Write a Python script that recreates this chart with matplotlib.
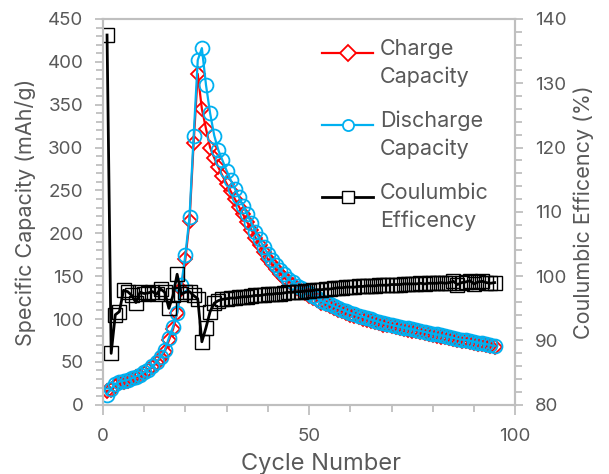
import numpy as np
import matplotlib.pyplot as plt
from matplotlib.ticker import MultipleLocator
from matplotlib.legend_handler import HandlerLine2D

plt.rcParams['font.family'] = ['Inter', 'DejaVu Sans']

cycles = list(range(1, 96))

discharge = [12, 19, 24, 27, 28, 29, 31, 33, 35, 38,
             41, 45, 50, 56, 64, 78, 91, 107, 140, 175,
             219, 313, 402, 416, 373, 340, 314, 297, 285, 273,
             262, 252, 242, 232, 222, 212, 202, 193, 184, 176,
             169, 163, 157, 152, 147, 143, 139, 136, 133, 130,
             127, 124, 121, 119, 117, 115, 113, 111, 109, 107,
             105.5, 104, 102.5, 101, 99.5, 98, 96.5, 95, 94, 93,
             92, 91, 90, 89, 88, 87, 86, 85, 84, 83,
             82, 81, 80, 79, 78, 77, 76, 75.5, 74.5, 73.5,
             72.5, 71.5, 70.5, 69.5, 68.5]

charge = [16, 17, 22, 25, 27, 28, 30, 32, 34, 37,
          40, 44, 49, 55, 62, 75, 88, 107, 135, 170,
          214, 305, 386, 345, 322, 300, 288, 277, 267, 258,
          249, 240, 231, 222, 213, 204, 195, 186, 178, 170,
          164, 158, 153, 148, 144, 140, 136, 133, 130, 127,
          124.5, 122, 119, 117, 115, 113, 111, 109, 107, 105,
          103.5, 102, 100.5, 99, 97.5, 96, 95, 93.5, 92.5, 91.5,
          90.5, 89.5, 88.5, 87.5, 86.5, 85.5, 84.5, 83.5, 82.5, 81.5,
          80.5, 79.5, 78.6, 77.6, 76.7, 75.7, 74.8, 74.2, 73.2, 72.3,
          71.4, 70.5, 69.6, 68.7, 67.8]

efficiency = [137.5, 88.0, 94.0, 94.5, 97.8, 97.6, 97.0, 95.9, 97.5, 97.3,
              97.4, 97.6, 97.2, 98.0, 97.5, 95.0, 97.0, 100.3, 97.2, 97.5,
              97.6, 97.0, 96.5, 89.8, 92.0, 94.5, 95.8, 96.2, 96.4, 96.5,
              96.6, 96.6, 96.7, 96.8, 96.8, 96.9, 97.0, 97.0, 97.1, 97.2,
              97.2, 97.3, 97.3, 97.4, 97.5, 97.5, 97.6, 97.6, 97.7, 97.7,
              97.8, 97.9, 97.9, 98.0, 98.0, 98.1, 98.2, 98.2, 98.3, 98.3,
              98.3, 98.4, 98.4, 98.5, 98.5, 98.5, 98.6, 98.6, 98.6, 98.7,
              98.7, 98.7, 98.8, 98.8, 98.8, 98.8, 98.9, 98.8, 98.9, 98.9,
              98.9, 99.0, 98.9, 99.0, 99.2, 98.7, 99.0, 99.1, 99.3, 98.8,
              99.1, 99.2, 99.0, 98.9, 99.0]

text_c = '#595959'
axis_c = '#BFBFBF'


# legend marker sits level with the first line of a two-line label
class FirstLineHandler(HandlerLine2D):
    def create_artists(self, legend, orig_handle, xdescent, ydescent,
                       width, height, fontsize, trans):
        return super().create_artists(legend, orig_handle, xdescent,
                                      ydescent - 0.96 * fontsize, width, height,
                                      fontsize, trans)


fig = plt.figure(figsize=(6.09, 4.74), dpi=100)
ax = fig.add_axes([0.169, 0.146, 0.677, 0.814])
ax2 = ax.twinx()

l1, = ax.plot(cycles, charge, color='#FF0000', lw=1.6, marker='D', ms=7.5,
              mfc='none', mec='#FF0000', mew=1.3, label='Charge\nCapacity')
l2, = ax.plot(cycles, discharge, color='#00B0F0', lw=1.6, marker='o', ms=10,
              mfc='none', mec='#00B0F0', mew=1.3, label='Discharge\nCapacity')
l3, = ax2.plot(cycles, efficiency, color='black', lw=2, marker='s', ms=10,
               mfc='none', mec='black', mew=1.0, label='Coulumbic\nEfficency')

ax.set_xlim(0, 100)
ax.set_ylim(0, 450)
ax2.set_ylim(80, 140)

ax.xaxis.set_major_locator(MultipleLocator(50))
ax.xaxis.set_minor_locator(MultipleLocator(10))
ax.yaxis.set_major_locator(MultipleLocator(50))
ax.yaxis.set_minor_locator(MultipleLocator(10))
ax2.yaxis.set_major_locator(MultipleLocator(10))
ax2.yaxis.set_minor_locator(MultipleLocator(2))

for a in (ax, ax2):
    for s in a.spines.values():
        s.set_color(axis_c)
        s.set_linewidth(1.5)
    a.tick_params(which='both', direction='out', color=axis_c, width=1.3,
                  labelcolor=text_c, labelsize=13.5)
    a.tick_params(which='major', length=6)
    a.tick_params(which='minor', length=5)

ax.tick_params(axis='x', which='both', top=False)
ax2.tick_params(axis='x', which='both', top=False, bottom=False)
ax.tick_params(axis='x', which='major', length=7, pad=10)
ax.tick_params(axis='y', which='both', right=False, pad=8)
ax2.tick_params(axis='y', which='both', left=False, pad=8)

ax.set_xlabel('Cycle Number', color=text_c, fontsize=17)
ax.xaxis.set_label_coords(0.53, -0.125)
ax.set_ylabel('Specific Capacity (mAh/g)', color=text_c, fontsize=15.5, labelpad=8)
ax2.set_ylabel('Coulumbic Efficency (%)', color=text_c, fontsize=15.5, labelpad=5)

leg = ax2.legend(handles=[l1, l2, l3], loc='upper left', bbox_to_anchor=(0.51, 0.97),
                 frameon=False, fontsize=15.5, handlelength=2.4, labelspacing=1.1,
                 handletextpad=0.3, borderaxespad=0,
                 handler_map={l1: FirstLineHandler(), l2: FirstLineHandler(),
                              l3: FirstLineHandler()})
for t in leg.get_texts():
    t.set_color(text_c)
    t.set_linespacing(1.45)
for h in leg.legend_handles:
    h.set_markersize(8)
    h.set_markerfacecolor('white')

fig.savefig('out.png', dpi=100)
